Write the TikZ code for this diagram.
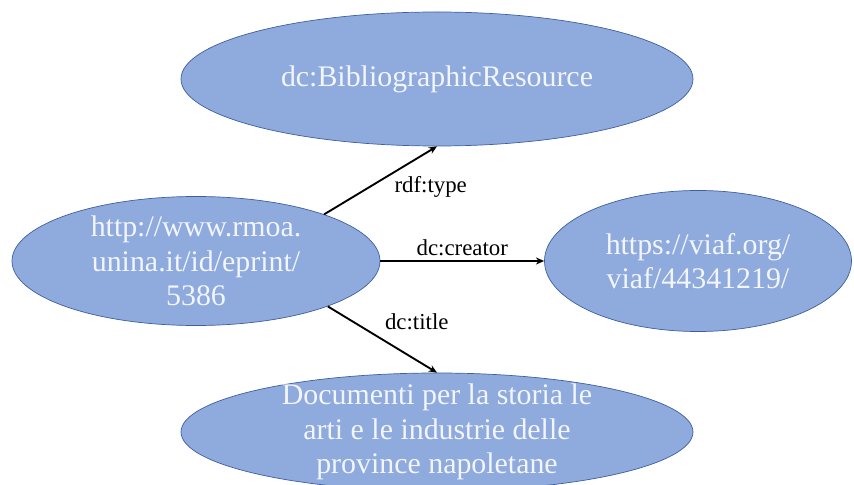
\documentclass[tikz,border=0pt]{standalone}
\usepackage{fontspec}
\setmainfont{Liberation Serif}
\usetikzlibrary{shapes.geometric, arrows.meta}
\definecolor{blobfill}{RGB}{143,170,220}
\definecolor{blobline}{RGB}{62,95,160}
\definecolor{blobtext}{RGB}{242,245,251}
\tikzset{
blob/.style={ellipse, draw=blobline, line width=0.6pt, fill=blobfill, inner sep=0pt},
blobtxt/.style={text=blobtext, align=center, font=\fontsize{25.5}{29.5}\selectfont},
prop/.style={line width=1.6pt, -{Stealth[length=7pt, width=6pt]}},
proplbl/.style={font=\fontsize{19.5}{21}\selectfont, inner sep=1.5pt}
}

\begin{document}
\begin{tikzpicture}[x=0.03cm, y=-0.03cm]
\useasboundingbox (0,0) rectangle (854,485);
% the resource and its three objects
\node[blob, minimum width=11.04cm, minimum height=3.87cm,
  label={[blobtxt]center:http://www.rmoa.\\unina.it/id/eprint/\\5386}] (eprint) at (196,261) {};
\node[blob, minimum width=15.36cm, minimum height=4.02cm,
  label={[blobtxt]center:dc:BibliographicResource}] (kind) at (437,79) {};
\node[blob, minimum width=9.21cm, minimum height=4.23cm,
  label={[blobtxt]center:https://viaf.org/\\viaf/44341219/}] (author) at (698,261) {};
\node[blob, minimum width=15.36cm, minimum height=3.54cm,
  label={[blobtxt]center:Documenti per la storia le\\arti e le industrie delle\\province napoletane}] (heading) at (437,432) {};
% properties
\draw[prop] (eprint.20) -- (kind.south) node[proplbl, pos=0.6, anchor=north west] (typelbl) {rdf:type};
\draw[prop] (eprint.east) -- (author.west) node[proplbl, pos=0.5, above, yshift=2pt] (creatorlbl) {dc:creator};
\draw[prop] (eprint.-19) -- (heading.north) node[proplbl, pos=0.5, anchor=south west, yshift=6pt] (titlelbl) {dc:title};
\end{tikzpicture}
\end{document}
